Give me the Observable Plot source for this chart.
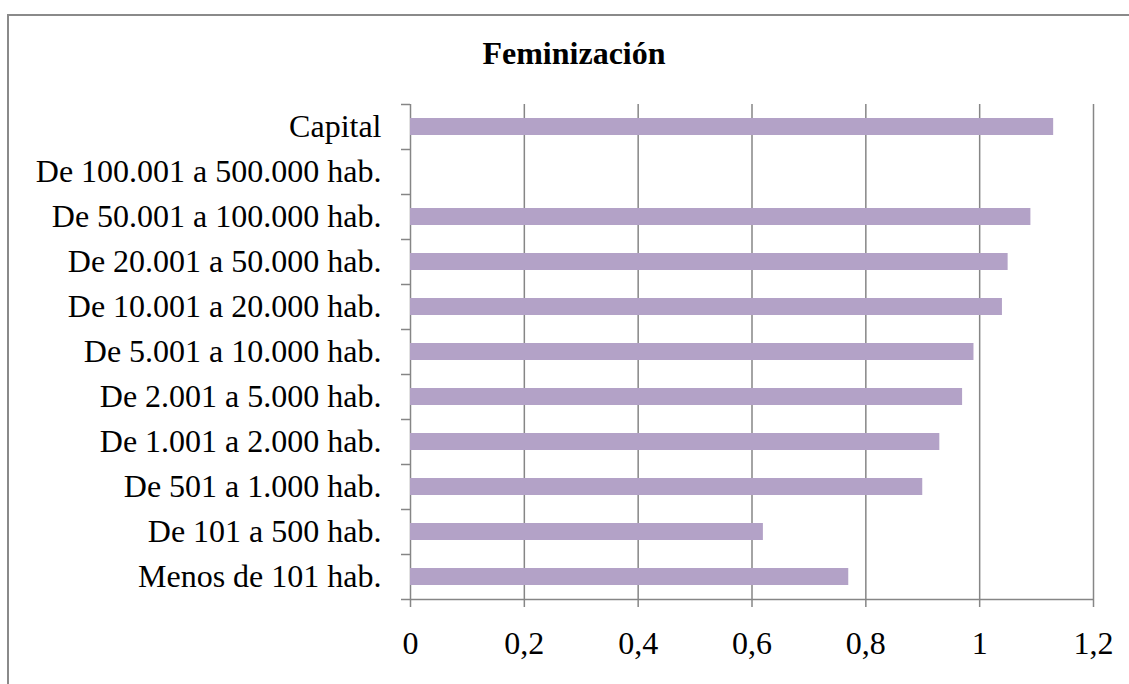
<!DOCTYPE html>
<html>
<head>
<meta charset="utf-8">
<script src="https://cdn.jsdelivr.net/npm/d3@7"></script>
<script src="https://cdn.jsdelivr.net/npm/@observablehq/plot@0.6"></script>
<style>
  html, body { margin: 0; padding: 0; background: #fff; overflow: hidden; }
  #wrap { position: relative; width: 1129px; height: 684px; }
  #border { position: absolute; left: 7px; top: 14px; width: 1200px; height: 800px;
            border-left: 2px solid #8a8a8a; border-top: 2px solid #8a8a8a; box-sizing: border-box; }
  #title { position: absolute; left: 0; width: 1148px; top: 37px; text-align: center;
           font: bold 32px "Liberation Serif", "Times New Roman", serif; line-height: 32px; color: #000; }
  #chart { position: absolute; left: 0; top: 0; }
</style>
</head>
<body>
<div id="wrap">
  <div id="border"></div>
  <div id="title">Feminización</div>
  <div id="chart"></div>
</div>
<script>
const categories = [
  "Capital",
  "De 100.001 a 500.000 hab.",
  "De 50.001 a 100.000 hab.",
  "De 20.001 a 50.000 hab.",
  "De 10.001 a 20.000 hab.",
  "De 5.001 a 10.000 hab.",
  "De 2.001 a 5.000 hab.",
  "De 1.001 a 2.000 hab.",
  "De 501 a 1.000 hab.",
  "De 101 a 500 hab.",
  "Menos de 101 hab."
];
const values = [1.13, null, 1.09, 1.05, 1.04, 0.99, 0.97, 0.93, 0.90, 0.62, 0.77];
const xTicks = [0, 0.2, 0.4, 0.6, 0.8, 1, 1.2];
const xDomain = [0, 1.2];

const data = categories.map((c, i) => ({cat: c, value: values[i]}));
const bars = data.filter(d => d.value != null);

const W = 1129, H = 684;
const mTop = 104, mBottom = 85, mLeft = 410, mRight = 36;
const step = (H - mTop - mBottom) / categories.length;
const grid = "#868686";

const chart = Plot.plot({
  width: W,
  height: H,
  marginTop: mTop,
  marginBottom: mBottom,
  marginLeft: mLeft,
  marginRight: mRight,
  style: {fontFamily: "'Liberation Serif', 'Times New Roman', serif", fontSize: "32px", color: "#000", background: "transparent"},
  x: {domain: xDomain, ticks: xTicks},
  y: {domain: categories, paddingInner: 0.62, paddingOuter: 0.31, align: 0.5},
  marks: [
    Plot.gridX(xTicks, {stroke: grid, strokeOpacity: 1, strokeWidth: 1.5}),
    // y-axis tick marks at band boundaries
    Plot.ruleY(categories, {y: d => d, x1: 0, x2: 0, insetLeft: -9, dy: -step / 2, stroke: grid, strokeWidth: 1.5}),
    // bottom axis line (x axis) including the last boundary tick
    Plot.ruleY([categories[categories.length - 1]], {y: d => d, x1: xDomain[0], x2: xDomain[1], insetLeft: -9, dy: step / 2, stroke: grid, strokeWidth: 1.5}),
    Plot.barX(bars, {y: "cat", x: "value", fill: "#b3a2c7"}),
    Plot.axisY({tickSize: 0, tickPadding: 29, fontSize: 32, fill: "#000", label: null}),
    Plot.axisX({ticks: xTicks, tickSize: 8, tickPadding: 24, stroke: grid, strokeWidth: 1.5, fill: "#000", fontSize: 32,
                tickFormat: d => String(d).replace(".", ","), label: null})
  ]
});
document.getElementById("chart").appendChild(chart);
</script>
</body>
</html>
